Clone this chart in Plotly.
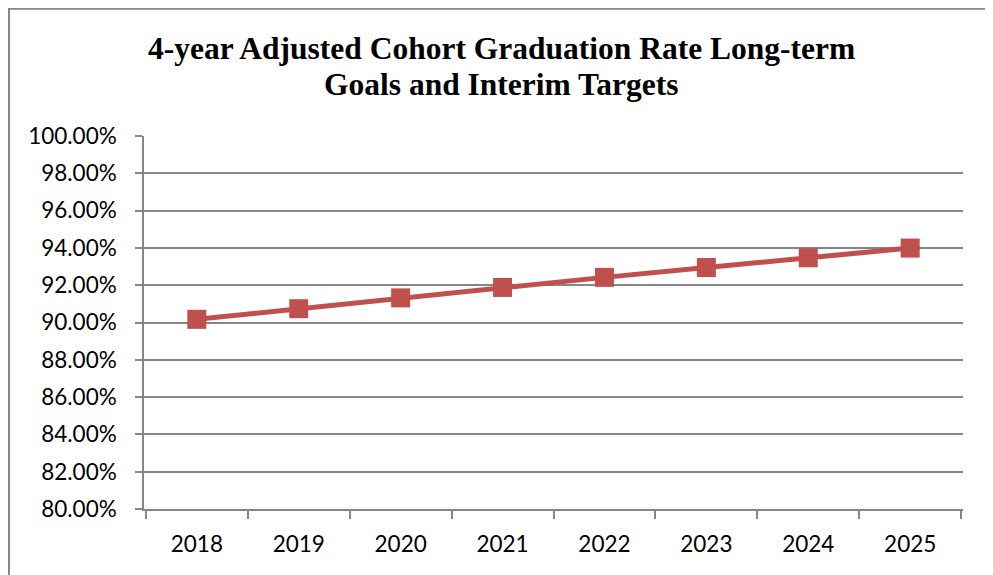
import plotly.graph_objects as go

years = ["2018", "2019", "2020", "2021", "2022", "2023", "2024", "2025"]
rates = [90.17, 90.74, 91.32, 91.88, 92.42, 92.95, 93.47, 93.99]
y_ticks = [80, 82, 84, 86, 88, 90, 92, 94, 96, 98, 100]
title_line1 = "4-year Adjusted Cohort Graduation Rate Long-term"
title_line2 = "Goals and Interim Targets"

RED = "#C0504D"
GRID = "#868686"
W, H = 993, 575
OFF = 8  # page body offset
L, T = 144 - OFF, 135.5 - OFF
pw, ph = 819, 373.5
R, B = W - L - pw, H - T - ph

fig = go.Figure()
fig.add_trace(go.Scatter(
    x=years, y=rates, mode="lines+markers",
    line=dict(color=RED, width=5),
    marker=dict(symbol="square", size=19, color=RED),
    showlegend=False, hoverinfo="x+y",
))

def px_x(p):
    return (p - OFF - L) / pw

def px_y(p):
    return (H - B - (p - OFF)) / ph

fig.add_shape(type="rect", xref="paper", yref="paper",
              x0=px_x(9), x1=px_x(989), y0=px_y(600), y1=px_y(8),
              line=dict(color=GRID, width=2), fillcolor="rgba(0,0,0,0)", layer="below")

for txt, yc in [(title_line1, 48), (title_line2, 84)]:
    fig.add_annotation(text="<b>" + txt + "</b>", xref="paper", yref="paper",
                       x=px_x(501), y=px_y(yc), xanchor="center", yanchor="middle",
                       showarrow=False,
                       font=dict(family="Liberation Serif", size=31.5, color="black"))

fig.update_layout(
    width=W, height=H,
    margin=dict(l=L, r=R, t=T, b=B),
    paper_bgcolor="white", plot_bgcolor="white",
    font=dict(family="Lato", size=22.5, color="black"),
    xaxis=dict(type="category", tickson="boundaries", ticks="outside", ticklen=8,
               tickcolor=GRID, tickwidth=1.5, showline=True, linecolor=GRID, linewidth=1.5,
               showgrid=False, tickfont=dict(size=22.5), ticklabelstandoff=14,
               fixedrange=True),
    yaxis=dict(range=[80, 100], tickvals=y_ticks, ticktext=[f"{v:.2f}%" for v in y_ticks],
               ticks="outside", ticklen=7, tickcolor=GRID, tickwidth=1.5,
               showline=True, linecolor=GRID, linewidth=1.5,
               showgrid=True, gridcolor=GRID, gridwidth=1.5, zeroline=False,
               tickfont=dict(size=22.5), ticklabelstandoff=14, fixedrange=True),
)

fig.write_html("out.html")
